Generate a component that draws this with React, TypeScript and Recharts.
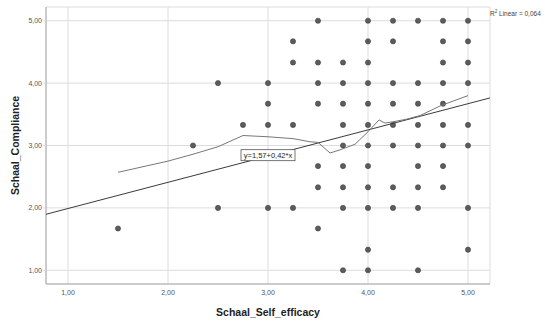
import React from 'react';
import { ScatterChart, Scatter, XAxis, YAxis, CartesianGrid, Customized } from 'recharts';

// Scale scores: each self-efficacy level with the compliance scores observed at it
const selfEfficacyLevels = [1.5, 2.25, 2.5, 2.75, 3.0, 3.25, 3.5, 3.75, 4.0, 4.25, 4.5, 4.75, 5.0];
const complianceAtLevel: number[][] = [
  [1.67],
  [3.0],
  [4.0, 2.0],
  [3.33],
  [4.0, 3.67, 3.33, 2.0],
  [4.67, 4.33, 3.33, 2.0],
  [5.0, 4.33, 4.0, 3.67, 2.67, 2.33, 1.67],
  [4.33, 4.0, 3.67, 3.33, 3.0, 2.67, 2.33, 2.0, 1.0],
  [5.0, 4.67, 4.33, 4.0, 3.67, 3.33, 3.0, 2.67, 2.33, 2.0, 1.33, 1.0],
  [5.0, 4.67, 4.0, 3.67, 3.33, 3.0, 2.33, 2.0],
  [5.0, 4.0, 3.67, 3.33, 3.0, 2.67, 2.33, 2.0, 1.0],
  [5.0, 4.67, 4.33, 4.0, 3.67, 3.33, 3.0, 2.67, 2.33],
  [5.0, 4.67, 4.33, 4.0, 3.33, 3.0, 2.0, 1.33],
];

// Local (loess) smoother through the cloud
const loessX = [1.5, 2.0, 2.25, 2.5, 2.75, 3.0, 3.25, 3.42, 3.5, 3.62, 3.72, 3.87, 4.0, 4.11, 4.17, 4.25, 4.38, 4.52, 4.73, 5.0];
const loessY = [2.57, 2.75, 2.86, 2.98, 3.16, 3.14, 3.11, 3.06, 3.05, 2.88, 2.93, 3.02, 3.22, 3.41, 3.36, 3.38, 3.42, 3.48, 3.64, 3.8];

// Linear fit: y = 1,57 + 0,42*x, R² = 0,064
const intercept = 1.57;
const slope = 0.42;
const rSquared = '0,064';
const equationText = 'y=1,57+0,42*x';
const equationAnchor = { x: 3.0, y: 2.845 };

const axisDomain: [number, number] = [0.78, 5.22];
const xTicks = [1, 2, 3, 4, 5];
const yTicks = [1, 2, 3, 4, 5];

const points = selfEfficacyLevels.flatMap((x, i) => complianceAtLevel[i].map((y) => ({ x, y })));
const loessPoints = loessX.map((x, i) => ({ x, y: loessY[i] }));
const fitPoints = axisDomain.map((x) => ({ x, y: intercept + slope * x }));

const FONT = '"Liberation Sans", Arial, Helvetica, sans-serif';
const fmt = (v: number) => v.toFixed(2).replace('.', ',');

const Dot = (props: any) => (
  <circle cx={props.cx} cy={props.cy} r={2.6} fill="#5c5c5c" stroke="#3f3f3f" strokeWidth={0.6} />
);

const NoMark = () => <g />;

const EquationBox = (props: any) => {
  const w = 54;
  const h = 11;
  return (
    <g>
      <rect x={props.cx - w / 2} y={props.cy - h / 2} width={w} height={h} fill="#fff" stroke="#555" strokeWidth={0.8} />
      <text x={props.cx} y={props.cy + 2.7} textAnchor="middle" fontSize={7.5} fontFamily={FONT} fill="#222">
        {equationText}
      </text>
    </g>
  );
};

const YTitle = (props: any) => {
  const vb = props.viewBox || { x: 0, y: 0, width: 0, height: 0 };
  const cx = vb.x + 15;
  const cy = vb.y + vb.height / 2;
  return (
    <text
      x={cx}
      y={cy}
      transform={`rotate(-90 ${cx} ${cy})`}
      textAnchor="middle"
      dominantBaseline="central"
      fontSize={10.5}
      fontWeight="bold"
      fontFamily={FONT}
      fill="#222"
    >
      Schaal_Compliance
    </text>
  );
};

const XTitle = (props: any) => {
  const vb = props.viewBox || { x: 0, y: 0, width: 0, height: 0 };
  return (
    <text
      x={vb.x + vb.width / 2}
      y={vb.y + 28}
      textAnchor="middle"
      dominantBaseline="central"
      fontSize={10.5}
      fontWeight="bold"
      fontFamily={FONT}
      fill="#222"
    >
      Schaal_Self_efficacy
    </text>
  );
};

const RSquaredNote = () => (
  <text x={490} y={16} fontSize={6.5} fontFamily={FONT} fill="#444">
    <tspan>R</tspan>
    <tspan dy={-3} fontSize={4.5}>2</tspan>
    <tspan dy={3}>{` Linear = ${rSquared}`}</tspan>
  </text>
);

export default function App() {
  return (
    <div style={{ position: 'absolute', left: 0, top: 0, width: 545, height: 321, background: '#fff' }}>
      <ScatterChart width={545} height={321} margin={{ top: 7, right: 55, bottom: 0, left: 0 }}>
        <CartesianGrid stroke="#dcdcdc" strokeWidth={1} />
        <XAxis
          type="number"
          dataKey="x"
          domain={axisDomain}
          ticks={xTicks}
          allowDataOverflow
          height={37}
          tickFormatter={fmt}
          stroke="#a9a9a9"
          tickLine={false}
          tickSize={3}
          tickMargin={3}
          tick={{ fontSize: 7, fill: '#555', fontFamily: FONT }}
          label={<XTitle />}
        />
        <YAxis
          type="number"
          dataKey="y"
          domain={axisDomain}
          ticks={yTicks}
          allowDataOverflow
          width={46}
          tickFormatter={fmt}
          stroke="#a9a9a9"
          tickLine={{ stroke: '#dcdcdc' }}
          tickSize={3}
          tickMargin={1}
          tick={{ fontSize: 7, fill: '#555', fontFamily: FONT }}
          label={<YTitle />}
        />
        <Scatter data={points} shape={Dot} isAnimationActive={false} />
        <Scatter
          data={fitPoints}
          line={{ stroke: '#3a3a3a', strokeWidth: 1 }}
          shape={NoMark}
          isAnimationActive={false}
        />
        <Scatter
          data={loessPoints}
          line={{ stroke: '#777', strokeWidth: 1 }}
          shape={NoMark}
          isAnimationActive={false}
        />
        <Scatter data={[equationAnchor]} shape={EquationBox} isAnimationActive={false} />
        <Customized component={RSquaredNote} />
      </ScatterChart>
    </div>
  );
}
